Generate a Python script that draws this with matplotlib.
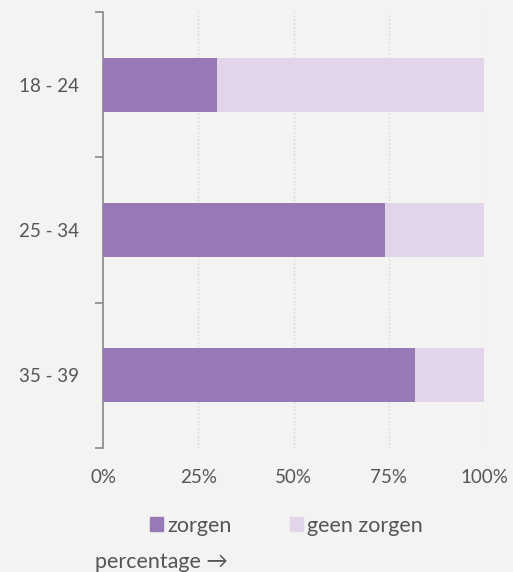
import numpy as np
import matplotlib.pyplot as plt
from matplotlib.patches import Patch
from matplotlib.ticker import FixedLocator, PercentFormatter

categories = ['18 - 24', '25 - 34', '35 - 39']
zorgen = [30, 74, 82]
geen_zorgen = [70, 26, 18]
xticks = [0, 25, 50, 75, 100]

dark = '#9679b5'
light = '#e2d5ea'
bg = '#f3f3f1'
txt = '#555555'

plt.rcParams['font.family'] = ['Lato', 'DejaVu Sans']

fig = plt.figure(figsize=(5.13, 5.72), dpi=100, facecolor=bg)
ax = fig.add_axes([0.2008, 0.2168, 0.7427, 0.7622], facecolor=bg)

y = np.arange(len(categories))
ax.barh(y, zorgen, height=0.37, color=dark, zorder=3)
ax.barh(y, geen_zorgen, left=zorgen, height=0.37, color=light, zorder=3)

ax.set_xlim(0, 100)
ax.set_ylim(len(categories) - 0.5, -0.5)

ax.set_yticks(y)
ax.set_yticklabels(categories)
ax.yaxis.set_minor_locator(FixedLocator(np.arange(-0.5, len(categories), 1)))
ax.tick_params(axis='y', which='major', length=0, pad=17, labelsize=13.5, labelcolor=txt)
ax.tick_params(axis='y', which='minor', length=6, width=1.2, color='#888888')

ax.set_xticks(xticks)
ax.xaxis.set_major_formatter(PercentFormatter(decimals=0))
ax.tick_params(axis='x', length=0, pad=15, labelsize=13.5, labelcolor=txt)

for v in xticks[1:]:
    ax.axvline(v, color='#cfcfcf', lw=0.9, ls=(0, (1, 2)), zorder=1)

for s in ['top', 'right', 'bottom']:
    ax.spines[s].set_visible(False)
ax.spines['left'].set_color('#888888')
ax.spines['left'].set_linewidth(1.2)

handles = [Patch(color=dark, label='zorgen'), Patch(color=light, label='geen zorgen')]
fig.legend(handles=handles, loc='center', bbox_to_anchor=(0.558, 0.081), ncol=2,
           frameon=False, fontsize=15.5, labelcolor=txt, handlelength=0.6,
           handleheight=0.6, handletextpad=0.2, columnspacing=2.7)

fig.text(95 / 513, 1 - 562 / 572, 'percentage \u2192', fontsize=15.5, color=txt,
         ha='left', va='center')

fig.savefig('out.png', dpi=100, facecolor=bg)
